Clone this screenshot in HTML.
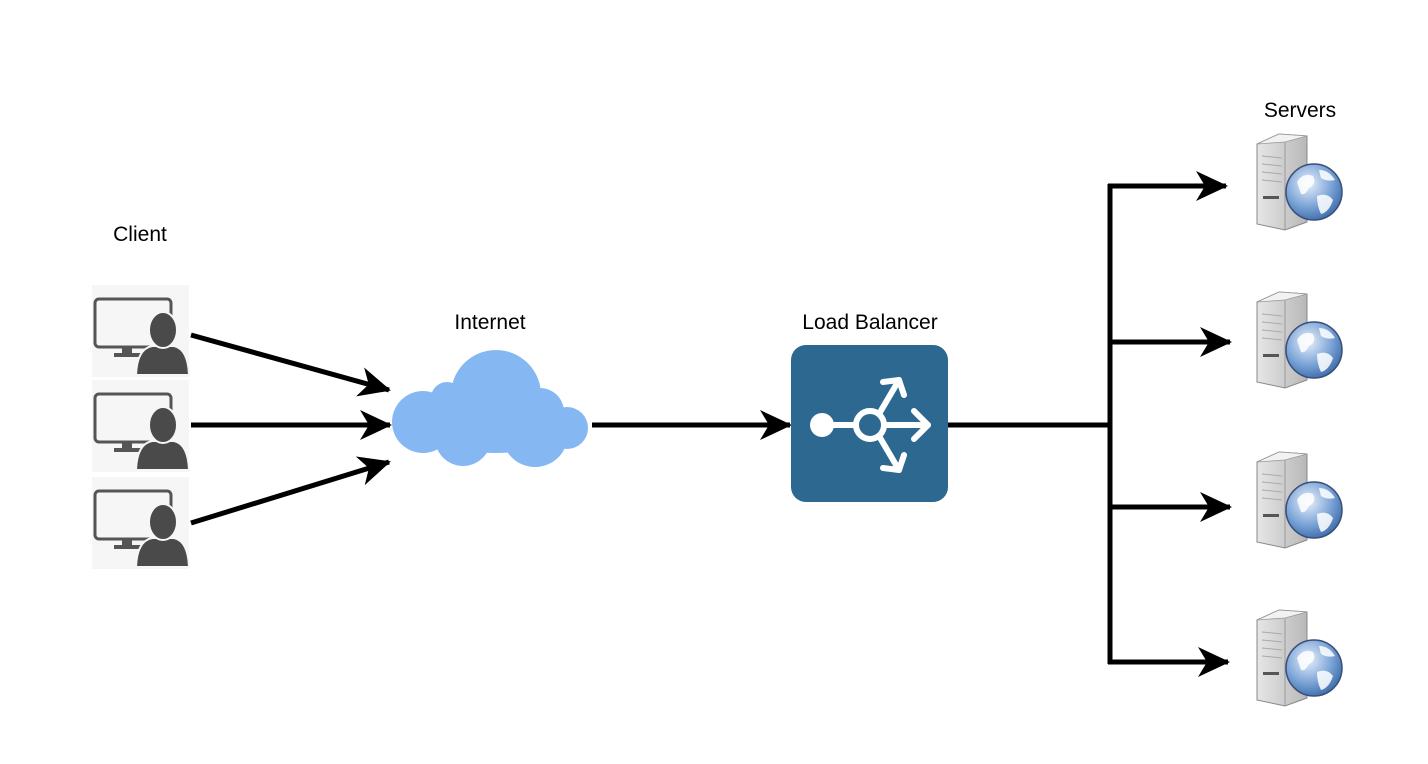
<!DOCTYPE html>
<html><head><meta charset="utf-8"><style>
html,body{margin:0;padding:0;background:#fff;}
svg{display:block;}
text{font-family:"Liberation Sans",Arial,sans-serif;font-size:21px;fill:#000;}
</style></head><body>
<svg width="1428" height="764" viewBox="0 0 1428 764" xmlns="http://www.w3.org/2000/svg">
<defs>
<marker id="ah" markerWidth="32" markerHeight="30" refX="30" refY="15" orient="auto" markerUnits="userSpaceOnUse">
<path d="M0,0 L32,15 L0,30 L9,15 Z" fill="#000"/>
</marker>
<g id="client">
<rect x="0" y="0" width="97" height="92" fill="#f6f6f6"/>
<rect x="3" y="14" width="76" height="48" rx="4" fill="none" stroke="#555" stroke-width="3"/>
<rect x="30" y="62" width="10" height="8" fill="#555"/>
<rect x="22" y="68" width="30" height="4" fill="#555"/>
<path d="M44,90 Q45,64 60,61 L82,61 Q96,64 97,90 Z" fill="#4a4a4a" stroke="#f6f6f6" stroke-width="2"/>
<ellipse cx="71" cy="45" rx="14" ry="18" fill="#4a4a4a" stroke="#f6f6f6" stroke-width="2"/>
</g>
<radialGradient id="globe" cx="0.4" cy="0.35" r="0.7">
<stop offset="0" stop-color="#e8f0fb"/><stop offset="0.6" stop-color="#7aa3d6"/><stop offset="1" stop-color="#3b6aa8"/>
</radialGradient>
<linearGradient id="tower" x1="0" x2="1">
<stop offset="0" stop-color="#e6e6e6"/><stop offset="1" stop-color="#b8b8b8"/>
</linearGradient>
<g id="server">
<path d="M0,10 L22,0 L50,2 L50,88 L28,96 L0,90 Z" fill="url(#tower)" stroke="#888" stroke-width="1"/>
<path d="M0,10 L22,0 L50,2 L28,8 Z" fill="#f2f2f2" stroke="#999" stroke-width="0.8"/>
<path d="M28,8 L28,96" stroke="#999" stroke-width="1"/>
<g stroke="#aaa" stroke-width="1"><line x1="5" y1="22" x2="25" y2="24"/><line x1="5" y1="30" x2="25" y2="32"/><line x1="5" y1="38" x2="25" y2="40"/><line x1="5" y1="46" x2="25" y2="48"/></g>
<rect x="6" y="62" width="16" height="3" fill="#555"/>
<circle cx="57" cy="58" r="28" fill="url(#globe)" stroke="#3a4f7a" stroke-width="1.5"/>
<path d="M40,48 Q46,38 56,42 Q60,50 52,54 Q48,62 44,60 Z M60,62 Q70,58 76,66 Q72,78 64,80 Q60,72 60,62 Z M62,36 Q72,36 78,46 Q70,48 64,44 Z" fill="#fff" opacity="0.85"/>
</g>
</defs>

<text x="140" y="241" text-anchor="middle">Client</text>
<text x="490" y="329" text-anchor="middle">Internet</text>
<text x="870" y="329" text-anchor="middle">Load Balancer</text>
<text x="1300" y="117" text-anchor="middle">Servers</text>

<use href="#client" x="92" y="285"/>
<use href="#client" x="92" y="380"/>
<use href="#client" x="92" y="477"/>

<g stroke="#000" stroke-width="5" fill="none">
<line x1="191" y1="335" x2="389" y2="390" marker-end="url(#ah)"/>
<line x1="191" y1="425" x2="390" y2="425" marker-end="url(#ah)"/>
<line x1="191" y1="523" x2="389" y2="462" marker-end="url(#ah)"/>
<line x1="592" y1="425" x2="790" y2="425" marker-end="url(#ah)"/>
<line x1="948" y1="425" x2="1110" y2="425"/>
<line x1="1110" y1="184" x2="1110" y2="664"/>
<line x1="1108" y1="186" x2="1226" y2="186" marker-end="url(#ah)"/>
<line x1="1108" y1="342" x2="1230" y2="342" marker-end="url(#ah)"/>
<line x1="1108" y1="507" x2="1230" y2="507" marker-end="url(#ah)"/>
<line x1="1108" y1="662" x2="1228" y2="662" marker-end="url(#ah)"/>
</g>

<g fill="#85b8f2">
<circle cx="496" cy="395" r="45"/>
<circle cx="423" cy="422" r="31"/>
<circle cx="447" cy="398" r="16"/>
<circle cx="567" cy="428" r="21"/>
<circle cx="463" cy="438" r="28"/>
<circle cx="535" cy="434" r="33"/>
<circle cx="540" cy="412" r="24"/>
<ellipse cx="495" cy="425" rx="70" ry="28"/>
</g>

<rect x="791" y="345" width="157" height="157" rx="15" fill="#2d6891"/>
<g stroke="#fff" stroke-width="6" fill="none" stroke-linecap="round" stroke-linejoin="round">
<line x1="822" y1="425" x2="855" y2="425"/>
<circle cx="870" cy="425" r="14"/>
<line x1="884" y1="425" x2="928" y2="425"/>
<polyline points="914,411 928,425 914,439"/>
<line x1="879" y1="414" x2="899" y2="380"/>
<polyline points="883,382 899,380 904,395"/>
<line x1="879" y1="436" x2="899" y2="470"/>
<polyline points="883,468 899,470 904,455"/>
</g>
<circle cx="822" cy="425" r="12" fill="#fff"/>

<use href="#server" x="1257" y="134"/>
<use href="#server" x="1257" y="292"/>
<use href="#server" x="1257" y="452"/>
<use href="#server" x="1257" y="610"/>
</svg>
</body></html>
